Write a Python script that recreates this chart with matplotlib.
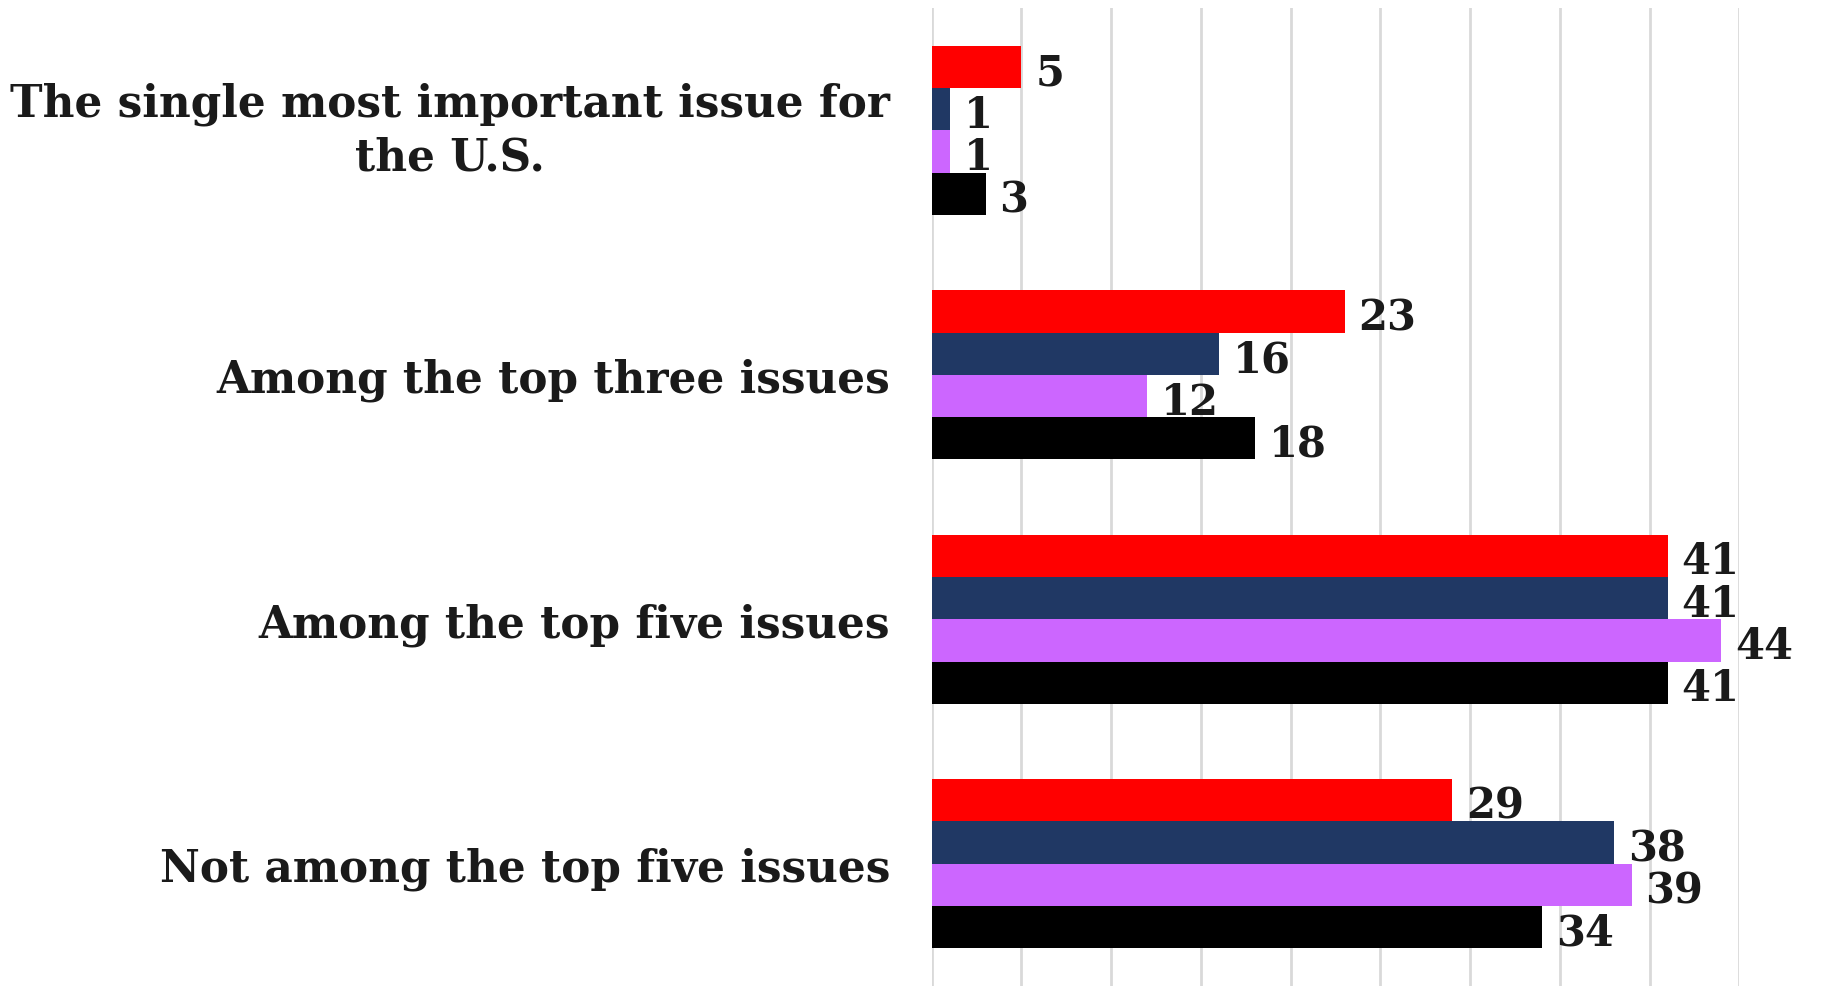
import numpy as np
import matplotlib
matplotlib.use("Agg")
import matplotlib.pyplot as plt
import matplotlib.transforms as mtransforms

# Data
categories = [
    "The single most important issue for\nthe U.S.",
    "Among the top three issues",
    "Among the top five issues",
    "Not among the top five issues",
]
series_names = ["Red", "Navy", "Purple", "Black"]
red_vals = [5, 23, 41, 29]
navy_vals = [1, 16, 41, 38]
purple_vals = [1, 12, 44, 39]
black_vals = [3, 18, 41, 34]
colors = ["#ff0000", "#203864", "#cc66ff", "#000000"]

plt.rcParams['font.family'] = ['DejaVu Serif']

fig = plt.figure(figsize=(18.27, 9.87), dpi=100)
ax = fig.add_axes([0.510, 0.0, 0.442, 0.9906])

y = np.arange(len(categories))
h = 0.173
all_vals = [red_vals, navy_vals, purple_vals, black_vals]
for i, (vals, col, name) in enumerate(zip(all_vals, colors, series_names)):
    bars = ax.barh(y + (i - 1.5) * h, vals, height=h, color=col, label=name, zorder=3)
    labels = ax.bar_label(bars, padding=10, fontsize=30, fontweight='bold', color='#1a1a1a')
    # nudge the value labels down a little, like the reference
    for lab in labels:
        lab.xyann = (10, -4)

ax.set_xlim(0, 45)
ax.set_ylim(3.5, -0.5)
ax.set_xticks(np.arange(0, 46, 5))
ax.set_xticklabels([])
ax.tick_params(axis='x', length=0)
ax.tick_params(axis='y', length=0, pad=30)
ax.grid(axis='x', color='#d9d9d9', linewidth=2, zorder=0)
ax.set_yticks(y)
ax.set_yticklabels(categories, fontsize=31.5, fontweight='bold', color='#1a1a1a')
for t in ax.get_yticklabels():
    t.set_multialignment('center')
    t.set_linespacing(1.3)
# two-line label sits a bit higher in the reference
first = ax.get_yticklabels()[0]
first.set_transform(first.get_transform() + mtransforms.ScaledTranslation(0, 0.1, fig.dpi_scale_trans))
for s in ax.spines.values():
    s.set_visible(False)

fig.savefig("out.png", dpi=100)
